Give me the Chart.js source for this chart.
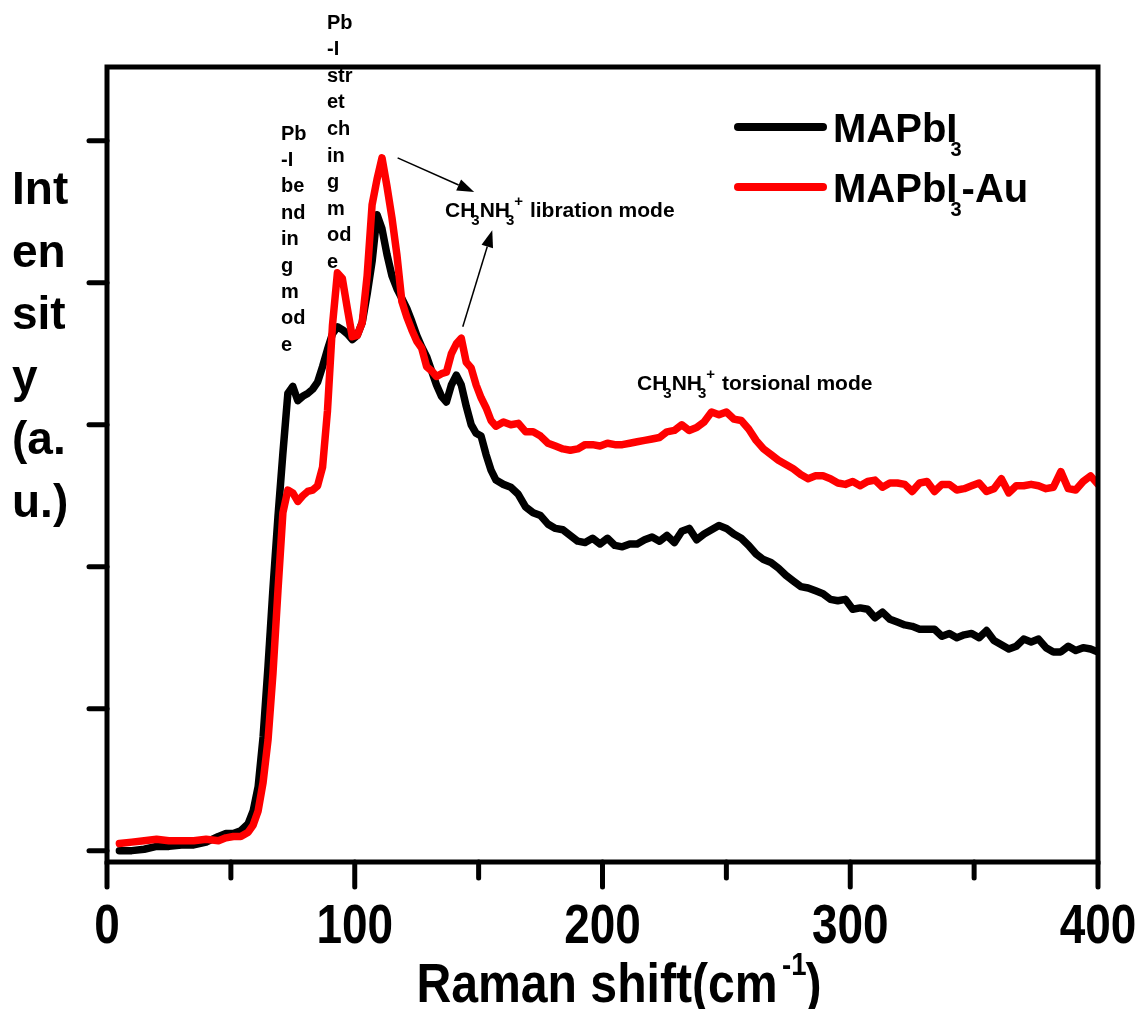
<!DOCTYPE html>
<html><head><meta charset="utf-8">
<script src="https://cdn.jsdelivr.net/npm/chart.js@4/dist/chart.umd.min.js"></script>
<style>html,body{margin:0;padding:0;background:#fff;}canvas{display:block;}</style>
</head><body>
<canvas id="c" width="1146" height="1009"></canvas>
<script>
// ---- data (Raman shift, cm-1) ----
const xValues = [5,10,15,20,25,30,35,40,45,48,51,54,57,59,61,63,65,67,69,71,73,75,77,79,81,83,85,87,89,91,93,95,97,99,101,103,105,107,109,111,113,115,117,119,121,123,125,127,129,131,133,135,137,139,141,143,145,147,149,151,153,155,157,160,163,166,169,172,175,178,181,184,187,190,193,196,199,202,205,208,211,214,217,220,223,226,229,232,235,238,241,244,247,250,253,256,259,262,265,268,271,274,277,280,283,286,289,292,295,298,301,304,307,310,313,316,319,322,325,328,331,334,337,340,343,346,349,352,355,358,361,364,367,370,373,376,379,382,385,388,391,394,397,400];
const mapbi3 = [0.00,0.00,0.01,0.03,0.03,0.04,0.04,0.06,0.10,0.12,0.12,0.14,0.19,0.28,0.45,0.80,1.30,1.85,2.35,2.80,3.22,3.27,3.17,3.20,3.22,3.25,3.30,3.41,3.53,3.64,3.69,3.67,3.64,3.60,3.63,3.72,3.92,4.15,4.48,4.38,4.20,4.05,3.96,3.89,3.82,3.73,3.63,3.55,3.48,3.38,3.28,3.20,3.16,3.28,3.35,3.28,3.13,3.00,2.94,2.92,2.79,2.68,2.61,2.58,2.56,2.51,2.42,2.38,2.36,2.30,2.27,2.26,2.22,2.18,2.17,2.20,2.16,2.20,2.15,2.14,2.16,2.16,2.19,2.21,2.18,2.22,2.17,2.25,2.27,2.19,2.23,2.26,2.29,2.27,2.23,2.20,2.15,2.09,2.05,2.03,1.99,1.94,1.90,1.86,1.85,1.83,1.81,1.77,1.76,1.77,1.70,1.71,1.70,1.64,1.68,1.63,1.61,1.59,1.58,1.56,1.56,1.56,1.51,1.53,1.50,1.52,1.53,1.50,1.55,1.48,1.45,1.42,1.44,1.49,1.47,1.49,1.43,1.40,1.40,1.44,1.41,1.43,1.42,1.40];
const mapbi3Au = [0.05,0.06,0.07,0.08,0.07,0.07,0.07,0.08,0.07,0.09,0.10,0.10,0.13,0.18,0.28,0.48,0.78,1.25,1.83,2.38,2.54,2.52,2.46,2.50,2.53,2.54,2.57,2.70,3.10,3.70,4.07,4.03,3.82,3.62,3.63,3.72,4.05,4.55,4.73,4.88,4.68,4.46,4.20,3.87,3.76,3.67,3.59,3.54,3.41,3.38,3.34,3.36,3.37,3.50,3.57,3.61,3.44,3.40,3.28,3.19,3.12,3.03,2.99,3.02,3.00,3.01,2.95,2.95,2.92,2.87,2.85,2.83,2.82,2.83,2.86,2.86,2.85,2.87,2.86,2.86,2.87,2.88,2.89,2.90,2.91,2.95,2.96,3.00,2.96,2.98,3.02,3.09,3.07,3.09,3.04,3.03,2.97,2.89,2.83,2.79,2.75,2.72,2.69,2.65,2.62,2.64,2.64,2.62,2.59,2.58,2.60,2.57,2.60,2.61,2.56,2.59,2.59,2.58,2.53,2.59,2.60,2.53,2.58,2.58,2.54,2.55,2.57,2.59,2.53,2.55,2.62,2.52,2.57,2.57,2.58,2.57,2.55,2.56,2.67,2.55,2.54,2.60,2.64,2.58];
const seriesNames = ['MAPbI', 'MAPbI'];
const xMajorTicks = [0, 100, 200, 300, 400];
const xMinorTicks = [50, 150, 250, 350];
const yTicks = [0, 1, 2, 3, 4, 5];

const SANS = '"Liberation Sans", Arial, "DejaVu Sans", sans-serif';

// condensed bold face for the x axis (narrow face if installed, else squeezed sans)
const probe = document.createElement('canvas').getContext('2d');
probe.font = 'bold 56px "Liberation Sans Narrow", monospace';
const wN = probe.measureText('Raman shift').width;
probe.font = 'bold 56px monospace';
const wM = probe.measureText('Raman shift').width;
const hasNarrow = Math.abs(wN - wM) > 0.5;
const NARROW = hasNarrow ? '"Liberation Sans Narrow", sans-serif' : SANS;
const SQUEEZE = hasNarrow ? 1 : 0.82;
const TITLE_SQUEEZE = hasNarrow ? 1.05 : 0.86;

function drawRich(ctx, x, y, parts, size, family, k) {
  k = k || 1;
  ctx.save();
  ctx.translate(x, y);
  ctx.scale(k, 1);
  ctx.textBaseline = 'alphabetic';
  ctx.textAlign = 'left';
  let cx = 0;
  for (const p of parts) {
    if (p.sub || p.sup) {
      ctx.font = 'bold ' + Math.round(size * p.scale) + 'px ' + family;
      cx -= p.back || 0;
      ctx.fillText(p.t, cx, p.sub ? p.dy : -p.dy);
      cx += ctx.measureText(p.t).width + (p.after || 0);
    } else {
      ctx.font = 'bold ' + size + 'px ' + family;
      ctx.fillText(p.t, cx, 0);
      cx += ctx.measureText(p.t).width;
    }
  }
  ctx.restore();
  return x + cx * k;
}

function measureRich(ctx, parts, size, family, k) {
  let w = 0;
  for (const p of parts) {
    const s = (p.sub || p.sup) ? Math.round(size * p.scale) : size;
    ctx.font = 'bold ' + s + 'px ' + family;
    w += ctx.measureText(p.t).width - (p.back || 0) + (p.after || 0);
  }
  return w * (k || 1);
}

function arrow(ctx, x1, y1, x2, y2) {
  const ang = Math.atan2(y2 - y1, x2 - x1);
  const L = 17, W = 6;
  const bx = x2 - L * Math.cos(ang), by = y2 - L * Math.sin(ang);
  ctx.strokeStyle = '#000';
  ctx.lineWidth = 1.5;
  ctx.beginPath(); ctx.moveTo(x1, y1); ctx.lineTo(bx, by); ctx.stroke();
  ctx.fillStyle = '#000';
  ctx.beginPath();
  ctx.moveTo(x2, y2);
  ctx.lineTo(bx + W * Math.sin(ang), by - W * Math.cos(ang));
  ctx.lineTo(bx - W * Math.sin(ang), by + W * Math.cos(ang));
  ctx.closePath(); ctx.fill();
}

const decor = {
  id: 'decor',
  afterDatasetsDraw(chart) {
    const ctx = chart.ctx;
    const xs = chart.scales.x, ys = chart.scales.y;
    const a = chart.chartArea;
    ctx.save();
    ctx.fillStyle = '#000';

    // stacked annotations
    ctx.font = 'bold 20px ' + SANS;
    ctx.textAlign = 'left'; ctx.textBaseline = 'alphabetic';
    const stackA = ['Pb', '-I', 'be', 'nd', 'in', 'g', 'm', 'od', 'e'];
    stackA.forEach((t, i) => ctx.fillText(t, 281, 139.5 + i * 26.4));
    const stackB = ['Pb', '-I', 'str', 'et', 'ch', 'in', 'g', 'm', 'od', 'e'];
    stackB.forEach((t, i) => ctx.fillText(t, 327, 28.5 + i * 26.6));

    const chem = (rest) => [
      {t: 'CH'}, {t: '3', sub: true, scale: 0.7, dy: 8, back: 4, after: 0},
      {t: 'NH'}, {t: '3', sub: true, scale: 0.7, dy: 8, back: 4, after: 0},
      {t: '+', sup: true, scale: 0.7, dy: 11, after: 1},
      {t: rest}
    ];
    drawRich(ctx, 445, 217, chem(' libration mode'), 21, SANS);
    drawRich(ctx, 637, 390, chem(' torsional mode'), 21, SANS);

    // arrows (anchored on data coordinates)
    arrow(ctx, xs.getPixelForValue(117.3), ys.getPixelForValue(4.88), xs.getPixelForValue(148.2), ys.getPixelForValue(4.64));
    arrow(ctx, xs.getPixelForValue(143.6), ys.getPixelForValue(3.69), xs.getPixelForValue(155.5), ys.getPixelForValue(4.37));

    // legend
    const ds = chart.data.datasets;
    const legendY = [127, 187];
    ds.forEach((d, i) => {
      ctx.strokeStyle = d.borderColor;
      ctx.lineWidth = 8; ctx.lineCap = 'round';
      ctx.beginPath(); ctx.moveTo(738, legendY[i]); ctx.lineTo(823, legendY[i]); ctx.stroke();
      ctx.fillStyle = '#000';
      const parts = [{t: seriesNames[i]}, {t: '3', sub: true, scale: 0.5, dy: 14, back: 7, after: 0}];
      if (i === 1) parts.push({t: '-Au'});
      drawRich(ctx, 833, legendY[i] + 15, parts, 40, SANS);
    });

    // frame
    ctx.strokeStyle = '#000';
    ctx.lineWidth = 5; ctx.lineCap = 'butt';
    ctx.strokeRect(a.left, a.top, a.right - a.left, a.bottom - a.top);
    ctx.lineCap = 'round';
    yTicks.forEach(v => {
      const py = ys.getPixelForValue(v);
      ctx.beginPath(); ctx.moveTo(a.left - 18, py); ctx.lineTo(a.left, py); ctx.stroke();
    });
    xMajorTicks.forEach(v => {
      const px = xs.getPixelForValue(v);
      ctx.beginPath(); ctx.moveTo(px, a.bottom); ctx.lineTo(px, a.bottom + 25); ctx.stroke();
    });
    xMinorTicks.forEach(v => {
      const px = xs.getPixelForValue(v);
      ctx.beginPath(); ctx.moveTo(px, a.bottom); ctx.lineTo(px, a.bottom + 16); ctx.stroke();
    });

    // x tick labels
    ctx.fillStyle = '#000';
    xMajorTicks.forEach(v => {
      const lbl = String(v);
      ctx.font = 'bold 56px ' + NARROW;
      const w = ctx.measureText(lbl).width * SQUEEZE;
      drawRich(ctx, xs.getPixelForValue(v) - w / 2, 943, [{t: lbl}], 56, NARROW, SQUEEZE);
    });

    // y-axis title (wrapped, horizontal)
    ctx.font = 'bold 46px ' + SANS;
    ctx.textAlign = 'left'; ctx.textBaseline = 'alphabetic';
    ['Int', 'en', 'sit', 'y', '(a.', 'u.)'].forEach((t, i) => ctx.fillText(t, 12, 204 + i * 62.5));

    // x-axis title with superscript
    const tparts = [{t: 'Raman shift(cm'}, {t: '-1', sup: true, scale: 0.58, dy: 27, back: -5, after: -1}, {t: ')'}];
    const tw = measureRich(ctx, tparts, 56, NARROW, TITLE_SQUEEZE);
    drawRich(ctx, 619 - tw / 2, 1002, tparts, 56, NARROW, TITLE_SQUEEZE);
    ctx.restore();
  }
};

new Chart(document.getElementById('c'), {
  type: 'line',
  data: {
    datasets: [
      {label: 'MAPbI3', data: xValues.map((x, i) => ({x, y: mapbi3[i]})), borderColor: '#000000', borderWidth: 7.5, pointRadius: 0, tension: 0, borderJoinStyle: 'round', borderCapStyle: 'round', order: 1},
      {label: 'MAPbI3-Au', data: xValues.map((x, i) => ({x, y: mapbi3Au[i]})), borderColor: '#ff0000', borderWidth: 7.5, pointRadius: 0, tension: 0, borderJoinStyle: 'round', borderCapStyle: 'round', order: 0}
    ]
  },
  options: {
    responsive: false, animation: false,
    layout: {padding: {top: 67, right: 48, bottom: 0, left: 0}},
    plugins: {legend: {display: false}, tooltip: {enabled: false}},
    scales: {
      x: {type: 'linear', min: 0, max: 400,
        grid: {display: false, drawTicks: false}, border: {display: false},
        ticks: {display: false, stepSize: 100},
        afterFit(s) { s.height = 147; }},
      y: {type: 'linear', min: -0.08, max: 5.52,
        grid: {display: false, drawTicks: false}, border: {display: false},
        ticks: {display: false},
        afterFit(s) { s.width = 107; }}
    }
  },
  plugins: [decor]
});
</script>
</body></html>
